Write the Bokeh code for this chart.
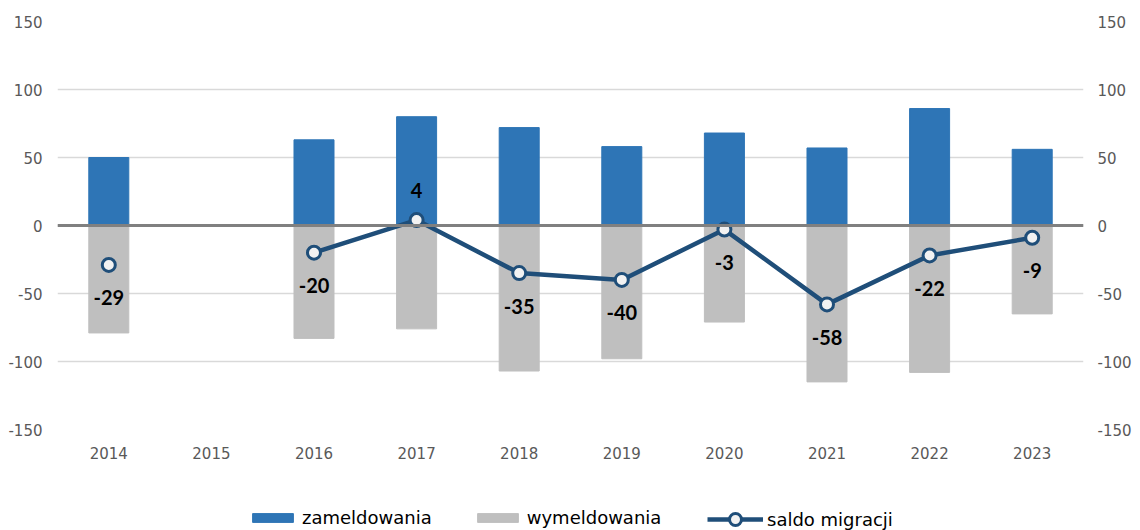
from bokeh.plotting import figure
from bokeh.layouts import column
from bokeh.models import (Range1d, FactorRange, LinearAxis, FixedTicker, Span,
                          Legend, LegendItem, ColumnDataSource, PrintfTickFormatter)
from bokeh.core.properties import value
from bokeh.embed import file_html
from bokeh.resources import INLINE
import math

NaN = float("nan")

years = ["2014", "2015", "2016", "2017", "2018", "2019", "2020", "2021", "2022", "2023"]
zameldowania = [50, NaN, 63, 80, 72, 58, 68, 57, 86, 56]
wymeldowania = [-79, NaN, -83, -76, -107, -98, -71, -115, -108, -65]
saldo = [-29, NaN, -20, 4, -35, -40, -3, -58, -22, -9]
label_side = ["below", None, "below", "above", "below", "below", "below", "below", "below", "below"]
y_ticks = [-150, -100, -50, 0, 50, 100, 150]
series_names = ["zameldowania", "wymeldowania", "saldo migracji"]

FONT = "DejaVu Sans"
LABEL_FONT = "Lato"
BLUE = "#2e75b6"
GREY = "#bfbfbf"
NAVY = "#1f4e79"
AXIS_TXT = "#595959"

p = figure(width=1140, height=506, x_range=FactorRange(*years), y_range=Range1d(-150, 150),
           output_backend="svg", toolbar_location=None,
           min_border_left=57, min_border_right=57, min_border_top=21, min_border_bottom=77)
p.outline_line_color = None
p.background_fill_color = "white"
p.border_fill_color = "white"

# bars
zi = [i for i, v in enumerate(zameldowania) if not math.isnan(v)]
src_z = ColumnDataSource(dict(x=[years[i] for i in zi], top=[zameldowania[i] for i in zi]))
wi = [i for i, v in enumerate(wymeldowania) if not math.isnan(v)]
src_w = ColumnDataSource(dict(x=[years[i] for i in wi], top=[wymeldowania[i] for i in wi]))

p.vbar(x="x", top="top", bottom=0, width=0.39, color=BLUE, source=src_z)
p.vbar(x="x", top="top", bottom=0, width=0.39, color=GREY, source=src_w)

# zero line
p.add_layout(Span(location=0, dimension="width", line_color="#808080", line_width=3))

# saldo line
src_s = ColumnDataSource(dict(x=years, y=saldo))
p.line(x="x", y="y", source=src_s, line_color=NAVY, line_width=4.5)
p.scatter(x="x", y="y", source=src_s, size=13, fill_color="#f2f2f2",
          line_color=NAVY, line_width=3)

# data labels
li = [i for i, v in enumerate(saldo) if not math.isnan(v)]
offs = [(-30 if label_side[i] == "above" else 33) for i in li]
src_t = ColumnDataSource(dict(x=[years[i] for i in li], y=[saldo[i] for i in li],
                              t=[str(int(saldo[i])) for i in li], off=offs))
p.text(x="x", y="y", text="t", y_offset="off", source=src_t,
       text_font=value(LABEL_FONT), text_font_style="bold", text_font_size="20px",
       text_color="black", text_align="center", text_baseline="middle")

# axes
p.yaxis.ticker = FixedTicker(ticks=y_ticks)
p.ygrid.ticker = FixedTicker(ticks=y_ticks)
p.ygrid.grid_line_color = "#d9d9d9"
p.ygrid.grid_line_width = 1.5
p.xgrid.grid_line_color = None

right = LinearAxis(ticker=FixedTicker(ticks=y_ticks))
p.add_layout(right, "right")

for ax in [p.yaxis[0], right]:
    ax.formatter = PrintfTickFormatter(format="%d")
    ax.axis_line_color = None
    ax.major_tick_line_color = None
    ax.minor_tick_line_color = None
    ax.major_tick_out = 0
    ax.major_tick_in = 0
    ax.minor_tick_out = 0
    ax.major_label_text_font = FONT
    ax.major_label_text_font_size = "15px"
    ax.major_label_text_color = AXIS_TXT
p.yaxis[0].major_label_standoff = 15
right.major_label_standoff = 14

xa = p.xaxis[0]
xa.axis_line_color = None
xa.major_tick_line_color = None
xa.minor_tick_line_color = None
xa.major_tick_out = 0
xa.major_tick_in = 0
xa.major_label_text_font = FONT
xa.major_label_text_font_size = "15px"
xa.major_label_text_color = AXIS_TXT
xa.major_label_standoff = 17

# legend strip (separate small figure so the legend is not clipped by the chart frame);
# its proxy glyphs lie outside this strip's visible range
lg = figure(width=1140, height=24, x_range=Range1d(1000, 1001), y_range=Range1d(1000, 1001),
            output_backend="svg", toolbar_location=None,
            min_border_left=0, min_border_right=0, min_border_top=0, min_border_bottom=0)
lg.axis.visible = False
lg.grid.visible = False
lg.outline_line_color = None
lg.background_fill_color = "white"
lg.border_fill_color = "white"
proxy = ColumnDataSource(dict(x=[0, 1], y=[0, 1], top=[1, 1]))
g_z = lg.vbar(x="x", top="top", bottom=0, width=0.39, color=BLUE, source=proxy)
g_w = lg.vbar(x="x", top="top", bottom=0, width=0.39, color=GREY, source=proxy)
g_l = lg.line(x="x", y="y", source=proxy, line_color=NAVY, line_width=4.5)
g_m = lg.scatter(x="x", y="y", source=proxy, size=13, fill_color="#f2f2f2",
                 line_color=NAVY, line_width=3)

common = dict(orientation="horizontal", label_standoff=4, padding=0, margin=0,
              border_line_color=None, background_fill_alpha=0,
              label_text_font=FONT, label_text_font_size="18px", label_text_color="black")

legend_bars = Legend(items=[
    LegendItem(label=series_names[0], renderers=[g_z], index=0),
    LegendItem(label=series_names[1], renderers=[g_w], index=0),
], location=(190, 2), glyph_width=51, glyph_height=11, label_height=17, spacing=40, **common)
lg.add_layout(legend_bars, "center")

legend_line = Legend(items=[
    LegendItem(label=series_names[2], renderers=[g_l, g_m], index=0),
], location=(650, -4), glyph_width=56, glyph_height=30, label_height=17, spacing=0, **common)
lg.add_layout(legend_line, "center")

layout = column(p, lg, spacing=0)
open("out.html", "w").write(file_html(layout, INLINE))
